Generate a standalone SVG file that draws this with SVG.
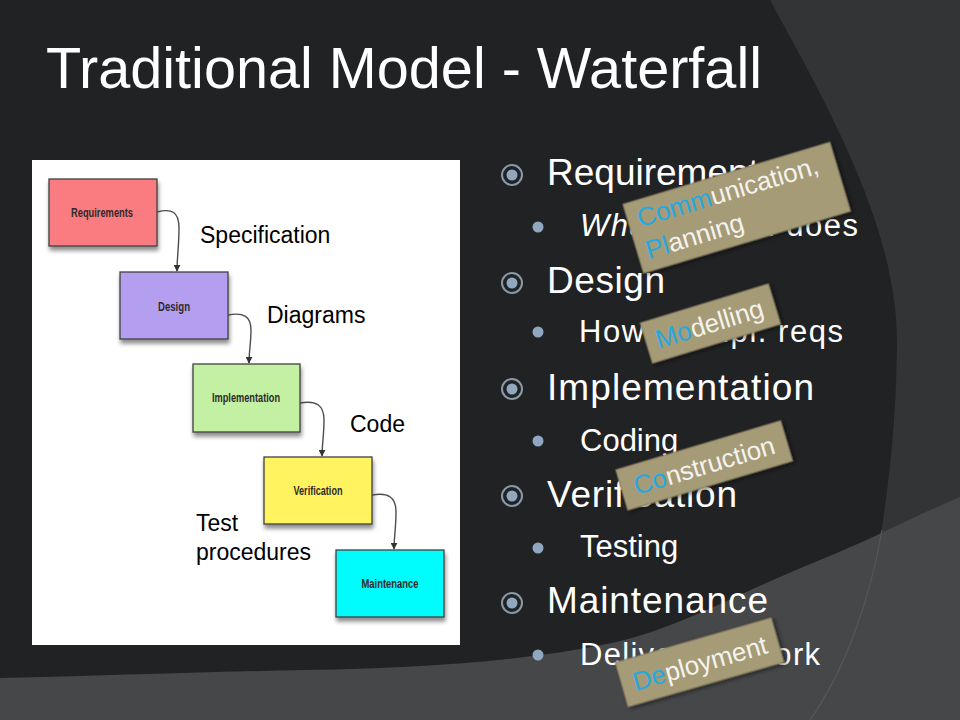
<svg xmlns="http://www.w3.org/2000/svg" width="960" height="720" viewBox="0 0 960 720">
<defs>
<style>
.title{font-family:"Liberation Sans",Arial,sans-serif;font-size:57px;fill:#ffffff}
.main{font-family:"Liberation Sans",Arial,sans-serif;font-size:37px;fill:#ffffff}
.sub{font-family:"Liberation Sans",Arial,sans-serif;font-size:31px;fill:#ffffff}
.box{stroke:#404040;stroke-width:1.3}
.boxlbl{font-family:"Liberation Sans",Arial,sans-serif;font-size:12.5px;font-weight:bold;fill:#2e2a2a;text-anchor:middle}
.flow{font-family:"Liberation Sans",Arial,sans-serif;font-size:23px;fill:#000000}
.conn{fill:none;stroke:#4d4d4d;stroke-width:1.4}
.ring{fill:none;stroke:#8b99a7;stroke-width:2}
.dot{fill:#8fa8c0}
.tag{fill:#a69b77;stroke:#857b5c;stroke-width:1}
.tagtxt{font-family:"Liberation Sans",Arial,sans-serif;font-size:26px;fill:#f4f3ee}
.blue{fill:#27a8e0}
</style>
<filter id="sh" x="-20%" y="-20%" width="140%" height="150%">
<feDropShadow dx="1" dy="4" stdDeviation="2" flood-color="#000" flood-opacity="0.45"/>
</filter>
<filter id="tsh" x="-20%" y="-30%" width="140%" height="160%">
<feDropShadow dx="2" dy="2" stdDeviation="2" flood-color="#000" flood-opacity="0.5"/>
</filter>
<marker id="arr" viewBox="0 0 10 10" refX="9" refY="5" markerWidth="5" markerHeight="5" orient="auto">
<path d="M0,0 L10,5 L0,10 z" fill="#333333"/>
</marker>
</defs>

<g id="background">
<rect x="0" y="0" width="960" height="720" fill="#333436"/>
<path d="M0,0 L770,0 C830,110 898,230 897,345 C896,430 888,500 870,600 L860,720 L0,720 Z" fill="#212224"/>
<path d="M960,497 C910,518 870,540 820,560 C740,592 680,628 612,643 C520,662 420,668 306,670 C200,672 100,676 0,678 L0,720 L960,720 Z" fill="#464749"/>
<path d="M882,530 C870,600 845,670 810,720" fill="none" stroke="#56575a" stroke-width="1.2"/>
</g>

<g id="title">
<text class="title" x="46" y="88" textLength="716" lengthAdjust="spacingAndGlyphs">Traditional Model - Waterfall</text>
</g>

<g id="picture">
<rect x="32" y="160" width="428" height="485" fill="#ffffff"/>
</g>

<g id="node-requirements">
<rect class="box" x="49" y="179" width="108" height="67" fill="#fb7c80" filter="url(#sh)"/>
<text class="boxlbl" x="102" y="217" textLength="62" lengthAdjust="spacingAndGlyphs">Requirements</text>
</g>
<g id="node-design">
<rect class="box" x="120" y="272" width="108" height="67" fill="#b39ef0" filter="url(#sh)"/>
<text class="boxlbl" x="174" y="311" textLength="32" lengthAdjust="spacingAndGlyphs">Design</text>
</g>
<g id="node-implementation">
<rect class="box" x="193" y="364" width="107" height="68" fill="#c4f0a4" filter="url(#sh)"/>
<text class="boxlbl" x="246" y="402" textLength="68" lengthAdjust="spacingAndGlyphs">Implementation</text>
</g>
<g id="node-verification">
<rect class="box" x="264" y="457" width="108" height="67" fill="#fff45e" filter="url(#sh)"/>
<text class="boxlbl" x="318" y="495" textLength="49" lengthAdjust="spacingAndGlyphs">Verification</text>
</g>
<g id="node-maintenance">
<rect class="box" x="336" y="550" width="108" height="67" fill="#00fdfd" filter="url(#sh)"/>
<text class="boxlbl" x="390" y="588" textLength="57" lengthAdjust="spacingAndGlyphs">Maintenance</text>
</g>

<g id="connectors">
<path class="conn" d="M157,212 C172,208 179,212 179,228 C179,245 177,258 177,271" marker-end="url(#arr)"/>
<path class="conn" d="M228,315 C243,312 251,316 251,330 C251,342 249,352 249,363" marker-end="url(#arr)"/>
<path class="conn" d="M300,403 C316,400 324,405 324,420 C324,435 322,445 322,456" marker-end="url(#arr)"/>
<path class="conn" d="M372,495 C388,492 396,497 396,512 C396,528 394,538 394,549" marker-end="url(#arr)"/>
</g>

<g id="flow-labels">
<text class="flow" x="200" y="243">Specification</text>
<text class="flow" x="267" y="323">Diagrams</text>
<text class="flow" x="350" y="432">Code</text>
<text class="flow" x="196" y="531">Test</text>
<text class="flow" x="196" y="560">procedures</text>
</g>

<g id="list">
<g id="bullets">
<circle class="ring" cx="512" cy="175" r="10"/><circle class="dot" cx="512" cy="175" r="5.5"/>
<circle class="ring" cx="512" cy="283" r="10"/><circle class="dot" cx="512" cy="283" r="5.5"/>
<circle class="ring" cx="512" cy="389" r="10"/><circle class="dot" cx="512" cy="389" r="5.5"/>
<circle class="ring" cx="512" cy="496" r="10"/><circle class="dot" cx="512" cy="496" r="5.5"/>
<circle class="ring" cx="512" cy="603" r="10"/><circle class="dot" cx="512" cy="603" r="5.5"/>
<circle class="dot" cx="538" cy="227" r="5.5"/>
<circle class="dot" cx="538" cy="332" r="5.5"/>
<circle class="dot" cx="538" cy="441" r="5.5"/>
<circle class="dot" cx="538" cy="548" r="5.5"/>
<circle class="dot" cx="538" cy="655" r="5.5"/>
</g>
<text class="main" x="547" y="185">Requirements</text>
<text class="sub" x="580" y="236" textLength="278"><tspan font-style="italic">What</tspan> system does</text>
<text class="main" x="547" y="293" textLength="118">Design</text>
<text class="sub" x="579" y="342" textLength="264">How to impl. reqs</text>
<text class="main" x="547" y="400" textLength="267">Implementation</text>
<text class="sub" x="580" y="451">Coding</text>
<text class="main" x="547" y="507" textLength="190">Verification</text>
<text class="sub" x="580" y="557">Testing</text>
<text class="main" x="547" y="613" textLength="221">Maintenance</text>
<text class="sub" x="580" y="665" textLength="240">Delivery of work</text>
</g>

<g id="tag-communication" transform="translate(736.7,207.7) rotate(-16.7)">
<rect class="tag" x="-108" y="-36" width="216" height="72" filter="url(#tsh)"/>
<text class="tagtxt" x="-98" y="-9"><tspan class="blue">Comm</tspan>unication,</text>
<text class="tagtxt" x="-99" y="24"><tspan class="blue">Pl</tspan>anning</text>
</g>
<g id="tag-modelling" transform="translate(710.4,323.5) rotate(-17)">
<rect class="tag" x="-67" y="-21" width="134" height="42" filter="url(#tsh)"/>
<text class="tagtxt" x="-1" y="9" text-anchor="middle" font-size="27"><tspan class="blue">Mo</tspan>delling</text>
</g>
<g id="tag-construction" transform="translate(704.2,465.4) rotate(-16.6)">
<rect class="tag" x="-86" y="-21" width="172" height="42" filter="url(#tsh)"/>
<text class="tagtxt" x="0" y="9" text-anchor="middle" font-size="27"><tspan class="blue">Co</tspan>nstruction</text>
</g>
<g id="tag-deployment" transform="translate(699.6,662.3) rotate(-16)">
<rect class="tag" x="-81" y="-23" width="162" height="46" filter="url(#tsh)"/>
<text class="tagtxt" x="0" y="10" text-anchor="middle" font-size="27"><tspan class="blue">De</tspan>ployment</text>
</g>
</svg>
